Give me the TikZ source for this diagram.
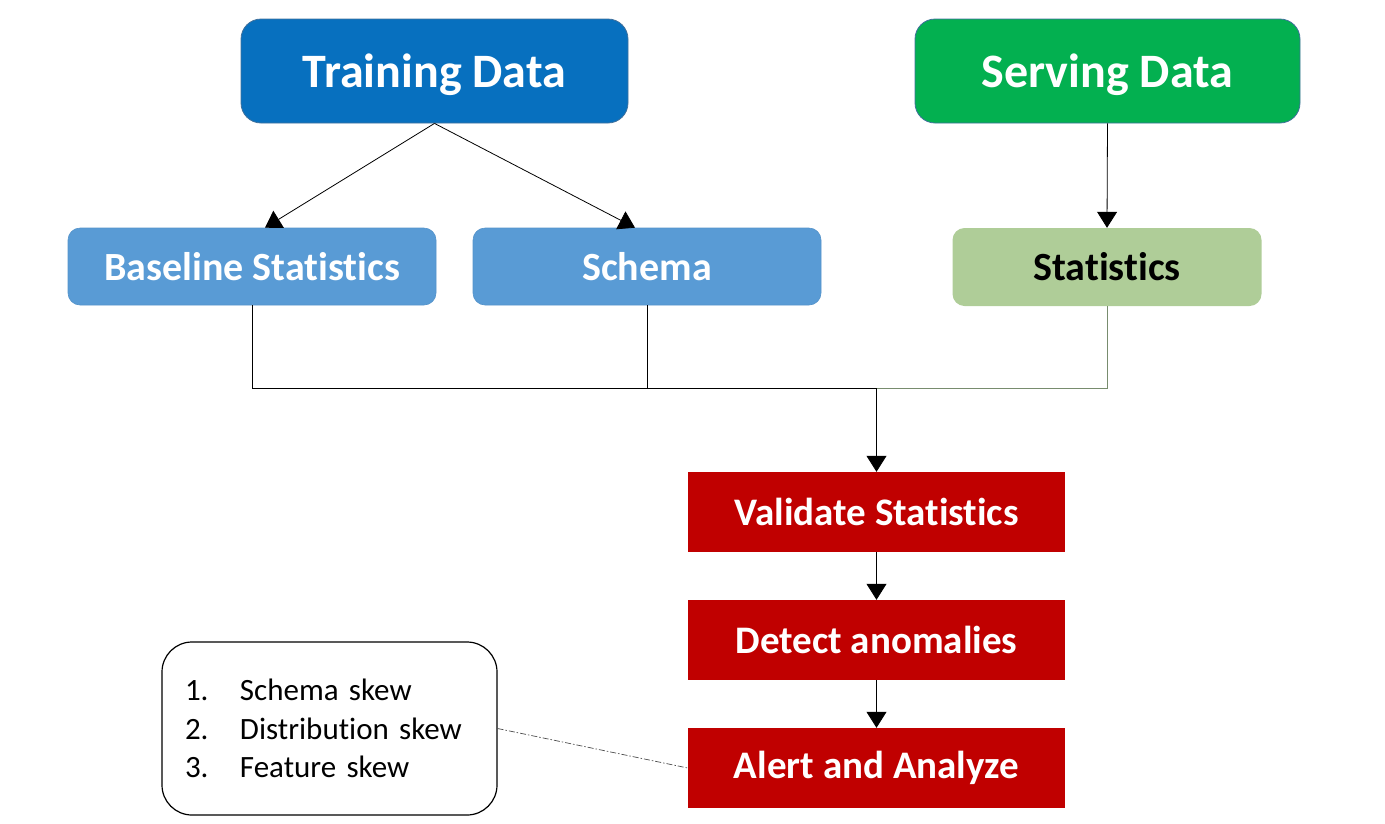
\documentclass[tikz,border=0pt]{standalone}
\usepackage{fontspec}
\setmainfont{Carlito}[Ligatures=NoCommon]
\usetikzlibrary{arrows.meta,calc}
\definecolor{tdblue}{RGB}{7,112,191}
\definecolor{sdgreen}{RGB}{3,176,80}
\definecolor{ltblue}{RGB}{89,155,213}
\definecolor{stgreen}{RGB}{175,205,152}
\definecolor{redbox}{RGB}{192,0,0}
\definecolor{edgeblue}{RGB}{65,113,156}
\definecolor{linegreen}{RGB}{120,140,110}
\begin{document}
\begin{tikzpicture}[x=1pt,y=-1pt,
  box/.style={inner sep=0pt, align=center, anchor=center},
  topbox/.style={box, rounded corners=20pt, draw=edgeblue, line width=0.8pt, text=white,
     font=\fontsize{48}{52}\selectfont\bfseries, minimum height=104pt,
     text height=34pt, text depth=2pt},
  midbox/.style={box, rounded corners=12pt, text=white,
     font=\fontsize{40}{44}\selectfont\bfseries, minimum height=77pt},
  redstep/.style={box, fill=redbox, text=white,
     font=\fontsize{39}{44}\selectfont\bfseries, minimum width=377pt, minimum height=80pt},
  conn/.style={line width=0.8pt, black},
  arr/.style={conn, -{Triangle[length=16pt,width=20pt]}},
]
\useasboundingbox (0,0) rectangle (1385,823);
% nodes
\node[topbox, fill=tdblue, minimum width=387pt] (td) at (434.5,71) {Training Data};
\node[topbox, fill=sdgreen, minimum width=385pt] (sd) at (1107.5,71) {Serving Data};
\node[midbox, fill=ltblue, draw=ltblue!80!edgeblue, line width=0.6pt, minimum width=368pt] (bs) at (252,266.5) {Baseline Statistics};
\node[midbox, fill=ltblue, draw=ltblue!80!edgeblue, line width=0.6pt, minimum width=348pt] (sc) at (647,266.5) {Schema};
\node[midbox, fill=stgreen, text=black, minimum width=309pt, minimum height=78pt] (st) at (1107,267) {Statistics};
\node[redstep] (v) at (876.5,512) {Validate Statistics};
\node[redstep] (d) at (876.5,640) {Detect anomalies};
\node[redstep] (a) at (876.5,768) {Alert and Analyze};
\node[draw=black, line width=1.2pt, rounded corners=30pt, inner xsep=23pt, inner ysep=0pt,
      text width=289pt, minimum height=173pt, anchor=center,
      font=\fontsize{31}{38.5}\selectfont, align=left, text=black] (list) at (329.5,728.5)
  {\makebox[55pt][l]{1.}Schema skew\\
   \makebox[55pt][l]{2.}Distribution skew\\
   \makebox[55pt][l]{3.}Feature skew};
% connectors
\coordinate (j) at (876.5,388);
\draw[arr] (td.south) -- ([xshift=13pt]bs.north);
\draw[arr] (td.south) -- ([xshift=-12pt]sc.north);
\draw[arr] (sd.south) -- (st.north);
\draw[conn] (bs.south) |- (j);
\draw[conn] (sc.south) |- (j);
\draw[line width=0.8pt, linegreen] (st.south) |- (j);
\draw[arr] (j) -- (v.north);
\draw[arr] (v.south) -- (d.north);
\draw[arr] (d.south) -- (a.north);
\draw[line width=0.7pt, black!70, dash pattern=on 6pt off 2pt on 1.5pt off 2pt] (list.east) -- (a.west);
\end{tikzpicture}
\end{document}
